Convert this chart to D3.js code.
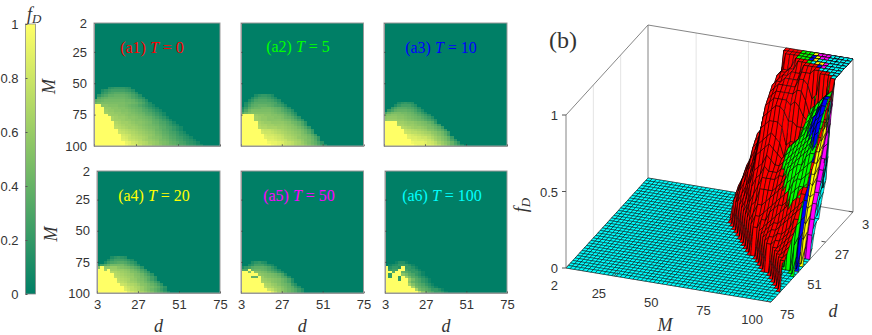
<!DOCTYPE html>
<html>
<head>
<meta charset="utf-8">
<script src="https://cdn.jsdelivr.net/npm/d3@7"></script>
<style>
body { margin: 0; background: #fff; }
text { font-family: "Liberation Sans", sans-serif; fill: #333; }
.math { font-family: "Liberation Serif", serif; }
</style>
</head>
<body>
<script>
// grid of the simulations
const dValues = d3.range(3, 76, 2);
const mValues = d3.range(2, 101, 2);
const dTicks = [3, 27, 51, 75];
const mTicks = [2, 25, 50, 75, 100];
const cbTicks = [0, 0.2, 0.4, 0.6, 0.8, 1];
const zTicks = [0, 0.5, 1];

const times = [0, 5, 10, 20, 50, 100];
const names = ['a1', 'a2', 'a3', 'a4', 'a5', 'a6'];
const seriesColors = ['#ff0000', '#00ff00', '#0000ff', '#ffff00', '#ff00ff', '#00ffff'];

// fD. One string per M row, the last row is M = 100,
// one base-36 digit per d column (0 = 0, z = 1), missing cells are 0
const fD_T0 = [
  '00005677765', '004689999875', '0068abcccba85', '069bddeeedca85', '0bdefffffedb975',
  'cefggggggffeca85', 'fghhhhhhhggfeca74',
  'zzjjiiihhgfedb9753', 'zzzkkjjiihgfedb9753', 'zzzlkkjjiihgfecb9753', 'zzzmllkkjjihgfecb9753',
  'zzzzmllkkjiihgfdca863', 'zzzzznmllkjjihgfeca863', 'zzzzznmmlkkjiihgfdca863',
  'zzzzzzonmmlkjjihgedba863', 'zzzzzzponmmlkjihgfecb9753', 'zzzzzzqponmmlkjihgfdca9753',
  'zzzzzzzrqponmlkjihfecb9753', 'zzzzzzzsrqponmlkjigfdca9753', 'zzzzzzzztsrponmlkjhgedba8653',
  'zzzzzzzzutrqponmkjihfecb98653', 'zzzzzzzzvusrqpnmlkjhgfdca97653',
  'zzzzzzzzzwvtsqpomlkihgedca97653', 'zzzzzzzzzxvusrponlkjhgfecba87643'
];
const fD_T5 = [
  '0000467764', '00047999864', '0047abbba975', '047acccccba74', '059cdeeedca974',
  '48ceffgggfedb85', '6bfhhhhhhgfeca85', 'bfhiiiiiihgfeca74',
  'zzzzlkkjjiihgec96', 'zzzzmlkkjjiihfec96', 'zzzzmlkkjjjjihgec96', 'zzzzznmllkkkkjigfda6',
  'zzzzzonnmmlllkjigeb7', 'zzzzzpoonnnmmlkjigeb7', 'zzzzzzsrrqponmlkjigeb7', 'zzzzzztssrqponmlkjhfc8',
  'zzzzzzzuttsrqonmlkihfc8', 'zzzzzzzvuutsrponmkjigeb7', 'zzzzzzzzvvutsrponmkihfc7',
  'zzzzzzzzxwwvusrqonljhfda6', 'zzzzzzzzzxwvusrqonmkigeb84'
];
const fD_T10 = [
  '000046765', '0004799975', '007acccba85', '07adeeedca74', 'aeghhggfeca74',
  'hijjiihgfeca85', 'jkkkjjihgfeca85', 'klllkkjihgfeca85', 'zzzzmmlkkjihgec7',
  'zzzznnmllkjihgec8', 'zzzzzponmllkjhgec8', 'zzzzzzrqponmljigec8', 'zzzzzzsrqqponmkjhfc8',
  'zzzzzzzutsrqpomkigd8', 'zzzzzzzvuutssqomkigd8', 'zzzzzzzzvvuutsqnljhea6',
  'zzzzzzzzxwwwvtsqnljhea6', 'zzzzzzzzzxwwvutrpmkheb84'
];
const fD_T20 = [
  '000046765', '00047999864', '0048abccb975', '49ceggggeca74', 'izkklljihgeca6',
  'zzmzmmllkjhfda7', 'zzzzponmlkihfc96', 'zzzzzponmlkihfc96', 'zzzzzqponmljigec96',
  'zzzzzzqponlkihfc96', 'zzzzzzrqpnmljigec96', 'zzzzzzzsrponljigec96',
  'zzzzzzzztrqonljhgec96', 'zzzzzzzzusqpnljhfdb85', 'zzzzzzzzzvtrpnljheca74'
];
const fD_T50 = [
  '00046754', '0046999753', '479cdddca74', 'bbzeffedb974', 'zzizjihgeca74',
  'zzzzzkjihgfda5', 'zzzeezljihgfca5', 'zzzzzzmlkjihfda5', 'zzzzzznmljihfda5',
  'zzzzzzzonlkigfd85', 'zzzzzzzqonlkigec85', 'zzzzzzzzsqnljhfdb85', 'zzzzzzzzzuqmjhfdb85'
];
const fD_T100 = [
  '0002552', '024577752', 'z5775z7752', 'z799zz97752', 'zzczzeca7752', 'z7zzzjgca752',
  'z7zz7zlgca752', 'zzzz7zzlgca752', 'zzzzzzzjeca752', 'zzzzzzznieca752',
  'zzzzzzzzngeca752', 'zzzzzzzzzngeca7752', 'zzzzzzzzzzrjeca7752'
];
// the T = 0 sheet as it stands in panel (b), its height is read from that view
const height_T0 = [
  '00005677765', '004689999875', '0068abcccba86', '09bdefffedca86', '0dghijjjihfda86',
  'ijkllllkjihfdb86', 'mnoppppoomkigec86',
  'zzvvvuutsrpnkifc96', 'zzzwwvvutsqoljgeb96', 'zzzwwwvvutrpmkhfda86', 'zzzxxwwvutspnljhfda86',
  'zzzzxxwvutspmkigfda86', 'zzzzzxwvutroljhgfdb986', 'zzzzzxwvuspkiihgfdca876',
  'zzzzzzyxvtpljjihgedba876', 'zzzzzzyxvsolkjihgfecb9876', 'zzzzzzywtqomlkjihgfdca9876',
  'zzzzzzztqponmlkjihfecb9876', 'zzzzzzzurqponmlkjigfdca9876', 'zzzzzzzztsrponmlkjhgedba8766',
  'zzzzzzzzutrqponmkjihfecb98766', 'zzzzzzzzvusrqpnmlkjhgfdca98766',
  'zzzzzzzzzwvtsqpomlkihgedca98766', 'zzzzzzzzzxvusrponlkjhgfecba98766'
];
const fDSeries = [fD_T0, fD_T5, fD_T10, fD_T20, fD_T50, fD_T100];
const heightSeries = [height_T0, fD_T5, fD_T10, fD_T20, fD_T50, fD_T100];

// full matrices, matrix[row][col]
const toMatrix = rows => mValues.map((m, j) => {
  const row = rows[j - (mValues.length - rows.length)] || '';
  return dValues.map((d, i) => i < row.length ? parseInt(row[i], 36) / 35 : 0);
});
const matrices = fDSeries.map(toMatrix);
const heights = heightSeries.map(toMatrix);

const width = 872, height = 335;
const svg = d3.select('body').append('svg')
  .attr('width', width)
  .attr('height', height);

const summer = d3.scaleLinear([0, 1], ['#007f66', '#ffff66']);

// colorbar
const cbY = d3.scaleLinear([0, 1], [294, 24]);
const grad = svg.append('defs').append('linearGradient')
  .attr('id', 'cb').attr('x1', 0).attr('x2', 0).attr('y1', 1).attr('y2', 0);
grad.selectAll('stop').data([0, 1]).join('stop')
  .attr('offset', d => d)
  .attr('stop-color', d => summer(d));
svg.append('rect')
  .attr('x', 25.5).attr('y', 24).attr('width', 10).attr('height', 270)
  .attr('fill', 'url(#cb)').attr('stroke', '#8a8a8a').attr('stroke-width', 0.8);
const cbAxis = svg.append('g').attr('transform', 'translate(25.5,0)')
  .call(d3.axisLeft(cbY).tickValues(cbTicks).tickFormat(d3.format('~g')).tickSize(-2).tickPadding(7));
cbAxis.select('.domain').remove();
cbAxis.selectAll('line').attr('stroke', '#555');
cbAxis.selectAll('text').attr('font-size', 13);
svg.append('text').attr('class', 'math').attr('x', 27).attr('y', 20)
  .attr('font-size', 18).attr('font-style', 'italic').text('f')
  .append('tspan').attr('dy', 3).attr('font-size', 13).text('D');

// heatmaps
const boxes = [
  { x0: 94, x1: 220, y0: 23, y1: 146, lx: 152, ly: 53 },
  { x0: 241, x1: 363.5, y0: 23, y1: 146, lx: 298, ly: 52 },
  { x0: 384, x1: 507, y0: 23, y1: 146, lx: 441, ly: 53 },
  { x0: 97, x1: 220, y0: 171, y1: 293, lx: 154, ly: 201 },
  { x0: 241, x1: 363.5, y0: 171, y1: 293, lx: 299, ly: 201 },
  { x0: 385, x1: 507, y0: 171, y1: 293, lx: 442, ly: 201 }
];

boxes.forEach((b, k) => {
  const g = svg.append('g');
  const xBand = d3.scaleBand(dValues, [b.x0, b.x1]);
  const yBand = d3.scaleBand(mValues, [b.y0, b.y1]);
  const x = d3.scaleLinear([3, 75], [b.x0, b.x1]);
  const y = d3.scaleLinear([2, 100], [b.y0, b.y1]);

  g.append('rect').attr('x', b.x0).attr('y', b.y0)
    .attr('width', b.x1 - b.x0).attr('height', b.y1 - b.y0).attr('fill', summer(0));

  const cells = [];
  matrices[k].forEach((row, j) => row.forEach((v, i) => {
    if (v > 0) cells.push({ d: dValues[i], m: mValues[j], v });
  }));
  g.selectAll('.cell').data(cells).join('rect')
    .attr('class', 'cell')
    .attr('shape-rendering', 'crispEdges')
    .attr('x', c => xBand(c.d)).attr('y', c => yBand(c.m))
    .attr('width', xBand.bandwidth()).attr('height', yBand.bandwidth())
    .attr('fill', c => summer(c.v));

  const axL = g.append('g').attr('transform', `translate(${b.x0},0)`)
    .call(d3.axisLeft(y).tickValues(mTicks).tickSize(-1.5).tickPadding(7));
  const axB = g.append('g').attr('transform', `translate(0,${b.y1})`)
    .call(d3.axisBottom(x).tickValues(dTicks).tickSize(-1.5).tickPadding(7));
  if (k % 3 !== 0) axL.selectAll('text').remove();
  if (k < 3) axB.selectAll('text').remove();
  g.selectAll('.tick text').attr('font-size', 13);
  g.selectAll('.tick line').attr('stroke', '#333');
  g.selectAll('.domain').attr('stroke', '#999').attr('stroke-width', 1);
  g.append('rect').attr('x', b.x0).attr('y', b.y0)
    .attr('width', b.x1 - b.x0).attr('height', b.y1 - b.y0)
    .attr('fill', 'none').attr('stroke', '#9a9a9a');

  const label = g.append('text').attr('class', 'math')
    .attr('x', b.lx).attr('y', b.ly)
    .attr('text-anchor', 'middle').attr('font-size', 16)
    .style('fill', seriesColors[k]);
  label.append('tspan').text(`(${names[k]}) `);
  label.append('tspan').attr('font-style', 'italic').text('T');
  label.append('tspan').text(` = ${times[k]}`);

  if (k % 3 === 0) {
    g.append('text').attr('class', 'math')
      .attr('transform', `translate(${k === 0 ? 55 : 57},${(b.y0 + b.y1) / 2 + 2}) rotate(-90)`)
      .attr('text-anchor', 'middle').attr('font-size', 18).attr('font-style', 'italic').text('M');
  }
  if (k >= 3) {
    g.append('text').attr('class', 'math')
      .attr('x', (b.x0 + b.x1) / 2).attr('y', 332)
      .attr('text-anchor', 'middle').attr('font-size', 18).attr('font-style', 'italic').text('d');
  }
});

// panel (b): oblique view of all six surfaces
const mUnit = d3.scaleLinear([2, 100], [0, 1]);
const dUnit = d3.scaleLinear([75, 3], [0, 1]);
const sx = (m, d) => 566 + 205 * mUnit(m) + 82 * dUnit(d);
const sy = (m, d, z) => 268 + 34 * mUnit(m) - 90 * dUnit(d) - 153 * z;
const line3d = (a, b) => `M${sx(a[0], a[1])},${sy(a[0], a[1], a[2])}L${sx(b[0], b[1])},${sy(b[0], b[1], b[2])}`;

const panel = svg.append('g');

// wall grid lines
const wallGrid = [
  ...mTicks.slice(1, 4).map(m => [[m, 3, 0], [m, 3, 1]]),
  ...dTicks.slice(1, 3).map(d => [[2, d, 0], [2, d, 1]])
];
panel.selectAll('.grid').data(wallGrid).join('path')
  .attr('class', 'grid')
  .attr('d', s => line3d(s[0], s[1]))
  .attr('stroke', '#e4e4e4').attr('fill', 'none');

// box edges
const edges = [
  [[2, 75, 1], [2, 3, 1]], [[2, 3, 1], [100, 3, 1]],
  [[2, 75, 0], [2, 75, 1]], [[2, 3, 0], [2, 3, 1]], [[100, 3, 0], [100, 3, 1]],
  [[2, 3, 0], [100, 3, 0]], [[100, 3, 0], [100, 75, 0]], [[2, 75, 0], [100, 75, 0]], [[2, 75, 0], [2, 3, 0]]
];
panel.selectAll('.edge').data(edges).join('path')
  .attr('class', 'edge')
  .attr('d', s => line3d(s[0], s[1]))
  .attr('stroke', '#777').attr('fill', 'none').attr('stroke-width', 0.9);

// painter's order: far quads first
const quads = [];
heights.forEach((mat, t) => {
  for (let j = 0; j < mValues.length - 1; j++) {
    for (let i = 0; i < dValues.length - 1; i++) {
      const corners = [[j, i], [j + 1, i], [j + 1, i + 1], [j, i + 1]]
        .map(([r, c]) => [mValues[r], dValues[c], mat[r][c]]);
      const zs = corners.map(c => c[2]);
      const zMean = d3.mean(zs);
      // the floor is only painted by the last surface
      if (d3.max(zs) === 0 && t < heights.length - 1) continue;
      const flat = d3.max(zs) === d3.min(zs) && (zMean === 0 || zMean === 1);
      const mMean = d3.mean(corners, c => c[0]);
      const dMean = d3.mean(corners, c => c[1]);
      quads.push({
        t, corners, flat,
        depth: 0.4 * mUnit(mMean) - dUnit(dMean) + 0.677 * zMean
      });
    }
  }
});
quads.sort((a, b) => {
  const gap = a.depth - b.depth;
  if (Math.abs(gap) > 1e-9) return gap;
  return a.flat ? a.t - b.t : b.t - a.t;
});
panel.append('g').selectAll('path').data(quads).join('path')
  .attr('d', q => 'M' + q.corners.map(c => `${sx(c[0], c[1]).toFixed(2)},${sy(c[0], c[1], c[2]).toFixed(2)}`).join('L') + 'Z')
  .attr('fill', q => seriesColors[q.t])
  .attr('stroke', '#000')
  .attr('stroke-width', 0.5);

// ticks of the 3d axes
panel.selectAll('.zt').data(zTicks).join('path').attr('class', 'zt')
  .attr('d', z => `M${sx(2, 75) - 4},${sy(2, 75, z)}H${sx(2, 75)}`).attr('stroke', '#555');
panel.selectAll('.zl').data(zTicks).join('text').attr('class', 'zl')
  .attr('x', sx(2, 75) - 8).attr('y', z => sy(2, 75, z) + 5)
  .attr('text-anchor', 'end').attr('font-size', 13).text(z => z);
panel.selectAll('.mt').data(mTicks).join('path').attr('class', 'mt')
  .attr('d', m => line3d([m, 75, 0], [m, 72, 0])).attr('stroke', '#555');
panel.selectAll('.ml').data(mTicks).join('text').attr('class', 'ml')
  .attr('x', m => sx(m, 75) - 8).attr('y', m => sy(m, 75, 0) + 22)
  .attr('text-anchor', 'end').attr('font-size', 13).text(m => m);
panel.selectAll('.dt').data(dTicks).join('path').attr('class', 'dt')
  .attr('d', d => line3d([100, d, 0], [98, d, 0])).attr('stroke', '#555');
panel.selectAll('.dl').data(dTicks).join('text').attr('class', 'dl')
  .attr('x', d => sx(100, d) + 9).attr('y', d => sy(100, d, 0) + 17)
  .attr('text-anchor', 'start').attr('font-size', 13).text(d => d);

panel.append('text').attr('class', 'math').attr('x', 665).attr('y', 331)
  .attr('text-anchor', 'middle').attr('font-size', 18).attr('font-style', 'italic').text('M');
panel.append('text').attr('class', 'math').attr('x', 833).attr('y', 317)
  .attr('text-anchor', 'middle').attr('font-size', 18).attr('font-style', 'italic').text('d');
const fz = panel.append('text').attr('class', 'math')
  .attr('transform', 'translate(527,205) rotate(-90)')
  .attr('text-anchor', 'middle').attr('font-size', 18).attr('font-style', 'italic').text('f');
fz.append('tspan').attr('dy', 3).attr('font-size', 13).text('D');
panel.append('text').attr('class', 'math').attr('x', 549).attr('y', 48)
  .attr('font-size', 24).text('(b)');
</script>
</body>
</html>
